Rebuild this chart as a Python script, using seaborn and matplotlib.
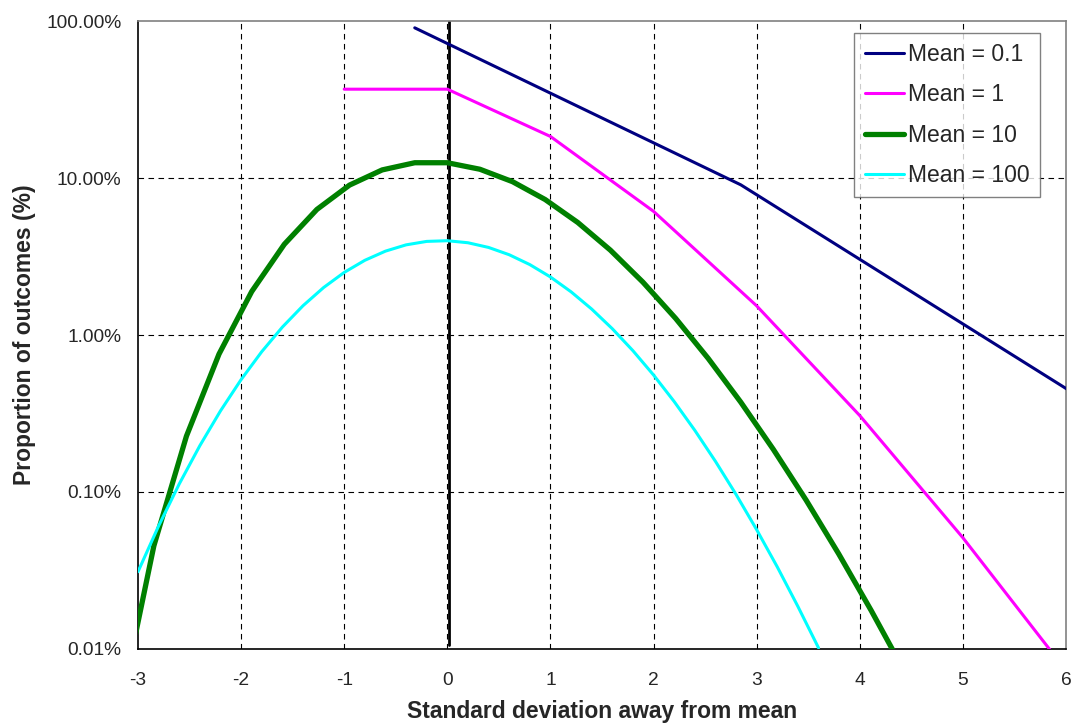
import numpy as np
import pandas as pd
import matplotlib
matplotlib.use('Agg')
import matplotlib.pyplot as plt
import seaborn as sns
from matplotlib.ticker import FuncFormatter, LogLocator, NullLocator

# 데이터 (그림에서 읽은 값, 비율)
x_mean_01 = [-0.316, 2.846, 6.009]
p_mean_01 = [0.9048, 0.09048, 0.004524]

x_mean_1 = [-1, 0, 1, 2, 3, 4, 5, 6]
p_mean_1 = [0.3679, 0.3679, 0.1839, 0.0613, 0.01533, 0.003066, 0.000511, 0.000073]

x_mean_10 = [-3.162, -2.846, -2.530, -2.214, -1.897, -1.581, -1.265, -0.949, -0.632,
             -0.316, 0.0, 0.316, 0.632, 0.949, 1.265, 1.581, 1.897, 2.214, 2.530,
             2.846, 3.162, 3.479, 3.795, 4.111, 4.427]
p_mean_10 = [0.0000454, 0.000454, 0.00227, 0.007567, 0.01892, 0.03783, 0.06306, 0.09008,
             0.1126, 0.1251, 0.1251, 0.1137, 0.09478, 0.07291, 0.05208, 0.03472, 0.0217,
             0.01276, 0.007091, 0.003732, 0.001866, 0.0008886, 0.0004039, 0.0001756,
             0.00007317]

x_mean_100 = [-3.0, -2.8, -2.6, -2.4, -2.2, -2.0, -1.8, -1.6, -1.4, -1.2, -1.0, -0.8,
              -0.6, -0.4, -0.2, 0.0, 0.2, 0.4, 0.6, 0.8, 1.0, 1.2, 1.4, 1.6, 1.8, 2.0,
              2.2, 2.4, 2.6, 2.8, 3.0, 3.2, 3.4, 3.6]
p_mean_100 = [0.0003106, 0.0006077, 0.001125, 0.0019735, 0.0032858, 0.005199, 0.007827,
              0.011226, 0.015357, 0.020057, 0.025042, 0.02991, 0.034212, 0.037513,
              0.039463, 0.039861, 0.03869, 0.036119, 0.032451, 0.028082, 0.023421,
              0.018839, 0.014625, 0.010962, 0.007941, 0.00556, 0.003767, 0.00247,
              0.001568, 0.000965, 0.000575, 0.000333, 0.0001865, 0.0001016]

# x=0 기준선
zero_x = [0.02, 0.02]
zero_p = [0.000106, 1.0]

series = [
    ('Mean = 0.1', x_mean_01, p_mean_01, '#000080', 2.2),
    ('Mean = 1', x_mean_1, p_mean_1, '#FF00FF', 2.2),
    ('Mean = 10', x_mean_10, p_mean_10, '#008000', 3.8),
    ('Mean = 100', x_mean_100, p_mean_100, '#00FFFF', 2.2),
]

sns.set_style('white')
plt.rcParams['font.family'] = ['Liberation Sans', 'DejaVu Sans']

fig = plt.figure(figsize=(10.73, 7.27), dpi=100)
ax = fig.add_axes([0.1286, 0.1073, 0.8649, 0.8638])

ax.set_yscale('log')
ax.set_xlim(-3, 6)
ax.set_ylim(0.0001, 1.0)

# 그리드
for v in [-2, -1, 0, 1, 2, 3, 4, 5]:
    ax.axvline(v, color='black', lw=0.8, dashes=(5, 4), zorder=1)
for v in [0.001, 0.01, 0.1]:
    ax.axhline(v, color='black', lw=0.8, dashes=(5, 4), zorder=1)

ax.plot(zero_x, zero_p, color='black', lw=2.0, zorder=2)

for label, xs, ps, col, lw in series:
    df = pd.DataFrame({'x': xs, 'p': ps})
    sns.lineplot(data=df, x='x', y='p', sort=False, color=col, lw=lw,
                 label=label, ax=ax, zorder=3)

ax.yaxis.set_major_locator(LogLocator(base=10, numticks=10))
ax.yaxis.set_minor_locator(NullLocator())
ax.yaxis.set_major_formatter(FuncFormatter(lambda v, _: f'{v*100:.2f}%'))
ax.set_xticks([-3, -2, -1, 0, 1, 2, 3, 4, 5, 6])
ax.set_xticklabels(['-3', '-2', '-1', '0', '1', '2', '3', '4', '5', '6'])

ax.tick_params(axis='both', which='major', direction='out', length=4, width=1,
               color='black', labelsize=13.75)
ax.tick_params(axis='y', pad=8)
ax.tick_params(axis='x', pad=12.5)

for side in ['left', 'bottom']:
    ax.spines[side].set_color('black')
    ax.spines[side].set_linewidth(1.2)
for side in ['top', 'right']:
    ax.spines[side].set_color('#808080')
    ax.spines[side].set_linewidth(1.2)

ax.set_xlabel('Standard deviation away from mean', fontsize=16.5, fontweight='bold', labelpad=8)
ax.set_ylabel('Proportion of outcomes (%)', fontsize=16.5, fontweight='bold', labelpad=7)

leg = ax.legend(loc='upper right', bbox_to_anchor=(0.972, 0.981), fontsize=16.5,
                frameon=True, fancybox=False, edgecolor='#606060', handlelength=1.7,
                handletextpad=0.2, labelspacing=0.75, borderpad=0.45, borderaxespad=0)
leg.get_frame().set_linewidth(1.0)
leg.set_zorder(5)

fig.savefig('out.png', dpi=100, facecolor='white')
